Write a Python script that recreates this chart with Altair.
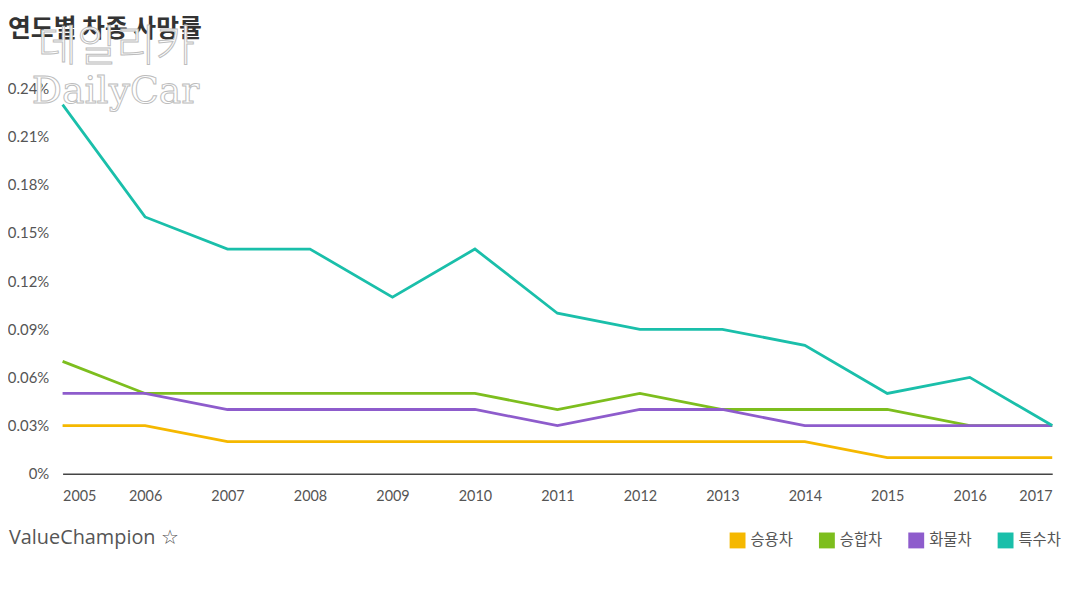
import altair as alt
import pandas as pd

years = list(range(2005, 2018))
series = ["승용차", "승합차", "화물차", "특수차"]
colors = ["#F5B800", "#7DBE1E", "#8E5CCC", "#1ABFAA"]

passenger = [0.03, 0.03, 0.02, 0.02, 0.02, 0.02, 0.02, 0.02, 0.02, 0.02, 0.01, 0.01, 0.01]
van = [0.07, 0.05, 0.05, 0.05, 0.05, 0.05, 0.04, 0.05, 0.04, 0.04, 0.04, 0.03, 0.03]
truck = [0.05, 0.05, 0.04, 0.04, 0.04, 0.04, 0.03, 0.04, 0.04, 0.03, 0.03, 0.03, 0.03]
special = [0.23, 0.16, 0.14, 0.14, 0.11, 0.14, 0.10, 0.09, 0.09, 0.08, 0.05, 0.06, 0.03]

y_ticks = [0, 0.03, 0.06, 0.09, 0.12, 0.15, 0.18, 0.21, 0.24]

rows = []
for name, vals in zip(series, [passenger, van, truck, special]):
    for yr, v in zip(years, vals):
        rows.append({"year": yr, "rate": v, "type": name, "order": series.index(name)})
df = pd.DataFrame(rows)

FONT = "Lato"
KFONT = "Noto Sans CJK KR"

lines = alt.Chart(df).mark_line(strokeWidth=2.8).encode(
    x=alt.X("year:Q",
            scale=alt.Scale(domain=[2005, 2017], nice=False, zero=False),
            axis=alt.Axis(values=years, format="d", title=None, grid=False,
                          ticks=False, domain=True, domainColor="#444",
                          domainWidth=1.5, labelPadding=16, labelFontSize=14.5,
                          labelColor="#555", labelFont=FONT)),
    y=alt.Y("rate:Q",
            scale=alt.Scale(domain=[0, 0.24], nice=False),
            axis=alt.Axis(values=y_ticks, title=None, grid=False, ticks=False,
                          domain=False, labelPadding=14, labelFontSize=15,
                          labelColor="#555", labelFont=FONT,
                          labelExpr="datum.value == 0 ? '0%' : format(datum.value, '.2f') + '%'")),
    color=alt.Color("type:N",
                    scale=alt.Scale(domain=series, range=colors),
                    legend=alt.Legend(title=None, orient="none", direction="horizontal",
                                      legendX=672, legendY=447,
                                      symbolType="square", symbolSize=49,
                                      symbolStrokeWidth=9,
                                      labelFont=KFONT, labelFontSize=15.5,
                                      labelColor="#555", labelOffset=5,
                                      columnPadding=12)),
    order=alt.Order("order:Q"),
    detail="type:N",
)

title = alt.Chart(pd.DataFrame({"t": ["연도별 차종 사망률"]})).mark_text(
    font=KFONT, fontSize=25, fontWeight="bold", fill="#333",
    align="left", baseline="middle"
).encode(text="t:N", x=alt.value(-55), y=alt.value(-60))

wm1 = alt.Chart(pd.DataFrame({"t": ["데일리카"]})).mark_text(
    font=KFONT, fontSize=43, fontWeight=300, fill="white", stroke="#bdbdbd", strokeWidth=1,
    align="left", baseline="middle"
).encode(text="t:N", x=alt.value(-25), y=alt.value(-41))
wm2 = alt.Chart(pd.DataFrame({"t": ["DailyCar"]})).mark_text(
    font="DejaVu Serif", fontSize=38, fill="white", stroke="#bdbdbd", strokeWidth=1,
    align="left", baseline="middle"
).encode(text="t:N", x=alt.value(-31), y=alt.value(4))

brand = alt.Chart(pd.DataFrame({"t": ["ValueChampion ☆"]})).mark_text(
    font="Open Sans", fontSize=20, fill="#555", align="left", baseline="middle"
).encode(text="t:N", x=alt.value(-54), y=alt.value(453))

chart = alt.layer(lines, title, wm1, wm2, brand).properties(
    width=997, height=388,
    padding={"left": 55, "top": 79, "right": 30, "bottom": 115},
    autosize=alt.AutoSizeParams(type="none"),
    background="white",
).configure_view(strokeWidth=0, stroke="transparent")

chart.save("out.html", embed_options={"renderer": "svg", "actions": False})
